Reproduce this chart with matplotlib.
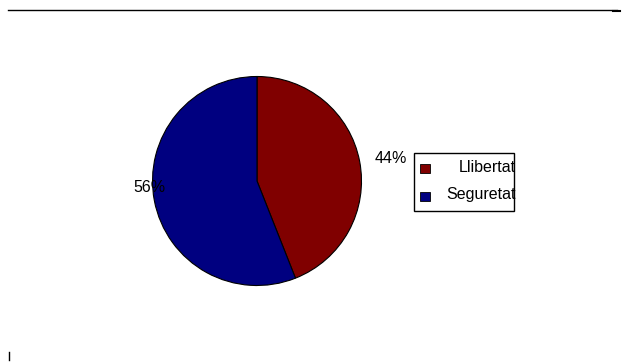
import numpy as np
import matplotlib
matplotlib.use("Agg")
from matplotlib import pyplot as plt
from matplotlib.lines import Line2D
from matplotlib.patches import Rectangle

labels = ["Llibertat", "Seguretat"]
values = [44, 56]
colors = ["#800000", "#000080"]

plt.rcParams['font.family'] = ['Liberation Sans', 'DejaVu Sans']

W, H = 628, 362
fig = plt.figure(figsize=(W/100, H/100), dpi=100)

def fx(px):
    return px/W
def fy(py):
    return 1 - py/H

# pie axes : center (257,181) px, radius ~104.5 px
cx, cy, r = 257, 181, 104.5
ax = fig.add_axes([(cx-r)/W, (H-cy-r)/H, 2*r/W, 2*r/H])
wedges, texts, autotexts = ax.pie(values, colors=colors, startangle=90, counterclock=False,
                                  autopct='%1.0f%%', pctdistance=1.28, radius=1,
                                  wedgeprops=dict(edgecolor='black', linewidth=0.8),
                                  textprops=dict(fontsize=11.5, color='black'))
ax.set_xlim(-1, 1)
ax.set_ylim(-1, 1)
ax.set_aspect('auto')
ax.axis('off')
# label positions (radius units)
autotexts[0].set_position((1.28, 0.215))
autotexts[1].set_position((-1.03, -0.06))

# legend drawn by hand: box, square keys, right-aligned labels
fig.add_artist(Rectangle((fx(414), fy(211)), fx(514)-fx(414), fy(153)-fy(211),
                         transform=fig.transFigure, facecolor='none', edgecolor='black', lw=1))
key_y = [168, 196]
for lab, col, ky in zip(labels, colors, key_y):
    fig.add_artist(Rectangle((fx(420), fy(ky+4.5)), fx(430)-fx(420), fy(ky-4.5)-fy(ky+4.5),
                             transform=fig.transFigure, facecolor=col, edgecolor='black', lw=0.6))
    fig.text(fx(516), fy(ky-1), lab, ha='right', va='center', fontsize=11.5)

# leftover axis lines
fig.add_artist(Line2D([fx(8), fx(617)], [fy(9.5), fy(9.5)], color='black', lw=1))
fig.add_artist(Line2D([fx(613), fx(620)], [fy(10.5), fy(10.5)], color='black', lw=1.5))
fig.add_artist(Line2D([fx(9), fx(9)], [fy(352), fy(360)], color='black', lw=1))

fig.savefig("out.png", dpi=100)
